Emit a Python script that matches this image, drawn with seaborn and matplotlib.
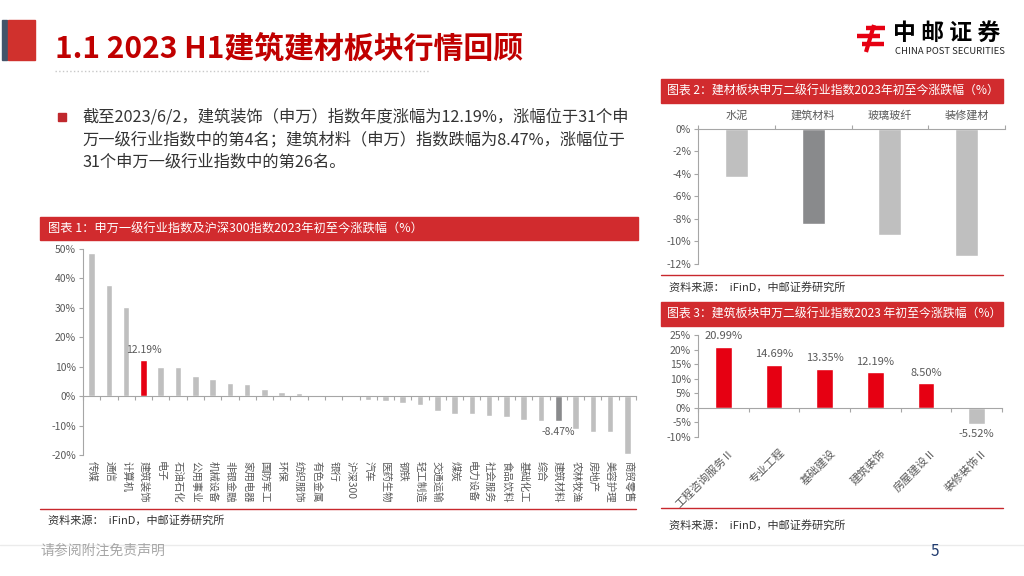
import matplotlib
matplotlib.use('Agg')
import matplotlib.pyplot as plt
import matplotlib.transforms as mtrans
from matplotlib.patches import Rectangle
from matplotlib.ticker import FixedLocator
import seaborn as sns
import pandas as pd

# 图表1: 申万一级行业指数及沪深300 2023年初至今涨跌幅(%)
industries = ['传媒', '通信', '计算机', '建筑装饰', '电子', '石油石化', '公用事业', '机械设备',
              '非银金融', '家用电器', '国防军工', '环保', '纺织服饰', '有色金属', '银行', '沪深300',
              '汽车', '医药生物', '钢铁', '轻工制造', '交通运输', '煤炭', '电力设备', '社会服务',
              '食品饮料', '基础化工', '综合', '建筑材料', '农林牧渔', '房地产', '美容护理', '商贸零售']
ind_chg = [48.5, 37.7, 30.2, 12.19, 10.0, 9.9, 6.9, 5.9,
           4.6, 4.2, 2.5, 1.4, 1.1, 0.15, -0.1, -0.3,
           -1.25, -1.6, -2.4, -3.0, -5.2, -5.9, -6.0, -6.7,
           -7.2, -8.0, -8.4, -8.47, -11.3, -12.2, -12.2, -19.6]

# 图表2: 建材板块申万二级
bm_names = ['水泥', '建筑材料', '玻璃玻纤', '装修建材']
bm_chg = [-4.3, -8.47, -9.4, -11.3]

# 图表3: 建筑板块申万二级
bd_names = ['工程咨询服务Ⅱ', '专业工程', '基础建设', '建筑装饰', '房屋建设Ⅱ', '装修装饰Ⅱ']
bd_chg = [20.99, 14.69, 13.35, 12.19, 8.50, -5.52]

RED = '#E60012'
GRAY = '#BFBFBF'
DARK = '#898A8C'
HEAD = '#D12B2E'
TICK = '#595959'
AXC = '#A6A6A6'

sns.set_theme(style='white')
plt.rcParams['font.family'] = ['Noto Sans CJK SC', 'DejaVu Sans']
plt.rcParams['axes.unicode_minus'] = False

W, H = 1024, 576
fig = plt.figure(figsize=(10.24, 5.76), dpi=100)


def px(x0, y0, x1, y1):
    return [x0 / W, 1 - y1 / H, (x1 - x0) / W, (y1 - y0) / H]


# background / decoration layer in pixel coords
bg = fig.add_axes([0, 0, 1, 1])
bg.set_xlim(0, W)
bg.set_ylim(H, 0)
bg.axis('off')

bg.add_patch(Rectangle((2, 20), 5, 40, color='#44546A'))
bg.add_patch(Rectangle((8, 20), 27, 40, color='#D0312D'))
bg.text(55, 49, '1.1 2023 H1建筑建材板块行情回顾', fontsize=21.5, fontweight='bold',
        color='#C00000', va='center', ha='left')
bg.plot([55, 430], [71, 71], ls=':', color='#C8C8C8', lw=1)

# logo
for xs, ys in [([866, 885], [28, 28]), ([857, 880], [36, 36]), ([862, 884], [44, 44])]:
    bg.plot(xs, ys, color='#E60012', lw=3.2, solid_capstyle='butt')
bg.plot([874, 866], [25, 52], color='#E60012', lw=3, solid_capstyle='butt')
bg.text(893, 33, '中 邮 证 券', fontsize=16.5, fontweight='bold', color='black', va='center')
bg.text(895, 52, 'CHINA POST SECURITIES', fontsize=6.8, color='#222222', va='center')

# bullet text
bg.add_patch(Rectangle((58, 113), 8, 8, color='#C0282D'))
lines = ['截至2023/6/2，建筑装饰（申万）指数年度涨幅为12.19%，涨幅位于31个申',
         '万一级行业指数中的第4名；建筑材料（申万）指数跌幅为8.47%，涨幅位于',
         '31个申万一级行业指数中的第26名。']
for i, s in enumerate(lines):
    bg.text(82, 117 + i * 22.5, s, fontsize=11.7, color='#333333', va='center')

# headers
bg.add_patch(Rectangle((40, 217), 598, 23, color=HEAD))
bg.text(48, 229, '图表 1：申万一级行业指数及沪深300指数2023年初至今涨跌幅（%）',
        fontsize=8.8, color='white', va='center')
bg.add_patch(Rectangle((661, 79), 342, 24, color=HEAD))
bg.text(667, 91, '图表 2：建材板块申万二级行业指数2023年初至今涨跌幅（%）',
        fontsize=8.6, color='white', va='center')
bg.add_patch(Rectangle((661, 302), 342, 24, color=HEAD))
bg.text(667, 314, '图表 3：建筑板块申万二级行业指数2023 年初至今涨跌幅（%）',
        fontsize=8.6, color='white', va='center')

# source lines
for x0, x1, y, ty in [(40, 636, 509, 520), (661, 1003, 275, 287), (661, 1003, 508, 525)]:
    bg.plot([x0, x1], [y, y], color='#C8282D', lw=1)
    bg.text(x0 + 8, ty, '资料来源：  iFinD，中邮证券研究所', fontsize=8, color='#333333', va='center')

# footer
bg.plot([0, W], [545, 545], color='#EBEBEB', lw=1)
bg.text(40, 551, '请参阅附注免责声明', fontsize=10, color='#A6A6A6', va='center')
bg.text(935, 551, '5', fontsize=11, color='#1F3A6E', va='center', ha='center')


def style_axes(ax, color=AXC):
    for s in ['top', 'right', 'bottom', 'left']:
        ax.spines[s].set_visible(False)
    ax.spines['left'].set_visible(True)
    ax.spines['left'].set_color(color)
    ax.spines['left'].set_linewidth(0.8)
    ax.tick_params(axis='y', left=True, length=3, width=0.8, color=color,
                   labelsize=7.5, labelcolor=TICK, pad=2)
    ax.set_xlabel('')
    ax.set_ylabel('')
    ax.set_facecolor('none')
    ax.grid(False)


# ---------- chart 1 ----------
df1 = pd.DataFrame({'name': industries, 'chg': ind_chg})
pal1 = {n: GRAY for n in industries}
pal1['建筑装饰'] = RED
pal1['建筑材料'] = DARK
ax1 = fig.add_axes(px(83, 249, 636, 455))
sns.barplot(data=df1, x='name', y='chg', hue='name', palette=pal1, legend=False,
            width=0.38, saturation=1, ax=ax1)
ax1.set_xlim(-0.5, len(industries) - 0.5)
ax1.set_ylim(-20, 50)
ax1.set_yticks(range(-20, 51, 10))
ax1.set_yticklabels([f'{v}%' for v in range(-20, 51, 10)])
style_axes(ax1)
ax1.spines['bottom'].set_visible(True)
ax1.spines['bottom'].set_position(('data', 0))
ax1.spines['bottom'].set_color(AXC)
ax1.spines['bottom'].set_linewidth(0.8)
ax1.xaxis.set_minor_locator(FixedLocator([i + 0.5 for i in range(-1, len(industries))]))
ax1.tick_params(axis='x', which='major', length=0, labelbottom=False)
ax1.tick_params(axis='x', which='minor', bottom=True, length=3, width=0.8, color=AXC)
tr1 = mtrans.blended_transform_factory(ax1.transData, ax1.transAxes)
for i, n in enumerate(industries):
    ax1.text(i, -0.03, n, transform=tr1, rotation=-90, ha='center', va='top',
             fontsize=7.5, color=TICK)
i_a = industries.index('建筑装饰')
ax1.annotate(f'{ind_chg[i_a]:.2f}%', (i_a, ind_chg[i_a]), xytext=(0, 4),
             textcoords='offset points', ha='center', va='bottom', fontsize=7.5, color=TICK)
i_b = industries.index('建筑材料')
ax1.annotate(f'{ind_chg[i_b]:.2f}%', (i_b, ind_chg[i_b]), xytext=(0, -4),
             textcoords='offset points', ha='center', va='top', fontsize=7.5, color=TICK)

# ---------- chart 2 ----------
df2 = pd.DataFrame({'name': bm_names, 'chg': bm_chg})
pal2 = {n: GRAY for n in bm_names}
pal2['建筑材料'] = DARK
ax2 = fig.add_axes(px(698, 129, 1005, 264))
sns.barplot(data=df2, x='name', y='chg', hue='name', palette=pal2, legend=False,
            width=0.3, saturation=1, ax=ax2)
ax2.set_xlim(-0.5, len(bm_names) - 0.5)
ax2.set_ylim(-12, 0)
ax2.set_yticks(range(-12, 1, 2))
ax2.set_yticklabels([f'{v}%' for v in range(-12, 1, 2)])
style_axes(ax2)
ax2.spines['top'].set_visible(True)
ax2.spines['top'].set_color(AXC)
ax2.spines['top'].set_linewidth(0.8)
ax2.xaxis.tick_top()
ax2.xaxis.set_minor_locator(FixedLocator([i + 0.5 for i in range(-1, len(bm_names))]))
ax2.tick_params(axis='x', which='major', top=True, length=0, labeltop=True, labelbottom=False,
                labelsize=8, labelcolor=TICK, pad=6)
ax2.tick_params(axis='x', which='minor', top=True, bottom=False, length=3, width=0.8, color=AXC)
ax2.set_xlabel('')

# ---------- chart 3 ----------
df3 = pd.DataFrame({'name': bd_names, 'chg': bd_chg})
pal3 = {n: (RED if v > 0 else GRAY) for n, v in zip(bd_names, bd_chg)}
ax3 = fig.add_axes(px(698, 335, 1002, 437))
sns.barplot(data=df3, x='name', y='chg', hue='name', palette=pal3, legend=False,
            width=0.33, saturation=1, ax=ax3)
ax3.set_xlim(-0.5, len(bd_names) - 0.5)
ax3.set_ylim(-10, 25)
ax3.set_yticks(range(-10, 26, 5))
ax3.set_yticklabels([f'{v}%' for v in range(-10, 26, 5)])
style_axes(ax3)
ax3.spines['bottom'].set_visible(True)
ax3.spines['bottom'].set_position(('data', 0))
ax3.spines['bottom'].set_color(AXC)
ax3.spines['bottom'].set_linewidth(0.8)
ax3.xaxis.set_minor_locator(FixedLocator([i + 0.5 for i in range(-1, len(bd_names))]))
ax3.tick_params(axis='x', which='major', length=0, labelbottom=False)
ax3.tick_params(axis='x', which='minor', bottom=True, length=3, width=0.8, color=AXC)
tr3 = mtrans.blended_transform_factory(ax3.transData, ax3.transAxes)
for i, n in enumerate(bd_names):
    ax3.text(i + 0.1, -0.1, n, transform=tr3, rotation=45, ha='right', va='top',
             rotation_mode='anchor', fontsize=8, color=TICK)
for i, v in enumerate(bd_chg):
    ax3.annotate(f'{v:.2f}%', (i, v), xytext=(0, 4 if v > 0 else -4), textcoords='offset points',
                 ha='center', va='bottom' if v > 0 else 'top', fontsize=8, color=TICK)

fig.savefig('out.png', dpi=100)
